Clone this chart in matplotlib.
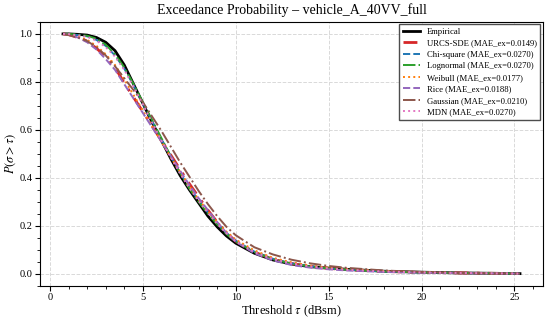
import numpy as np
import matplotlib.pyplot as plt
from matplotlib.ticker import MultipleLocator

plt.rcParams['font.family'] = ['Liberation Serif', 'DejaVu Serif']
plt.rcParams['mathtext.fontset'] = 'stix'

# threshold grid (dBsm)
tau = [0.7, 1, 1.5, 2, 2.5, 3, 3.5, 4, 4.5, 5, 5.5, 6, 6.5, 7, 7.5, 8, 8.5, 9, 9.5, 10,
       11, 12, 13, 14, 15, 16, 18, 20, 22, 25.3]

empirical = [1.0, 1.0, 0.998, 0.995, 0.985, 0.965, 0.93, 0.87, 0.79, 0.71, 0.63, 0.555, 0.48, 0.41,
             0.35, 0.295, 0.24, 0.195, 0.157, 0.127, 0.085, 0.057, 0.04, 0.029, 0.023, 0.018,
             0.01, 0.006, 0.003, 0.0]
urcs = [1.0, 0.997, 0.985, 0.97, 0.94, 0.905, 0.86, 0.795, 0.735, 0.675, 0.615, 0.555, 0.495, 0.435,
        0.375, 0.32, 0.265, 0.215, 0.17, 0.135, 0.09, 0.06, 0.042, 0.03, 0.022, 0.016,
        0.009, 0.005, 0.003, 0.0]
chisq = [1.0, 0.999, 0.995, 0.99, 0.975, 0.95, 0.91, 0.855, 0.785, 0.71, 0.635, 0.56, 0.49, 0.42,
         0.36, 0.305, 0.255, 0.21, 0.17, 0.137, 0.092, 0.062, 0.043, 0.03, 0.022, 0.016,
         0.009, 0.005, 0.003, 0.0]
lognorm = [1.0, 1.0, 0.997, 0.992, 0.98, 0.955, 0.915, 0.86, 0.79, 0.715, 0.64, 0.565, 0.49, 0.42,
           0.355, 0.30, 0.25, 0.205, 0.165, 0.133, 0.09, 0.06, 0.042, 0.03, 0.022, 0.016,
           0.009, 0.005, 0.003, 0.0]
weibull = [1.0, 0.997, 0.99, 0.975, 0.95, 0.915, 0.87, 0.81, 0.745, 0.68, 0.615, 0.55, 0.485, 0.425,
           0.365, 0.31, 0.26, 0.215, 0.175, 0.142, 0.097, 0.066, 0.047, 0.034, 0.025, 0.019,
           0.011, 0.006, 0.003, 0.0]
rice = [1.0, 0.996, 0.985, 0.965, 0.935, 0.895, 0.85, 0.79, 0.73, 0.67, 0.61, 0.55, 0.49, 0.43,
        0.37, 0.315, 0.265, 0.215, 0.17, 0.133, 0.085, 0.055, 0.036, 0.025, 0.018, 0.013,
        0.007, 0.004, 0.002, 0.0]
gauss = [1.0, 0.995, 0.985, 0.97, 0.945, 0.91, 0.865, 0.815, 0.765, 0.715, 0.655, 0.595, 0.53, 0.465,
         0.405, 0.345, 0.29, 0.24, 0.195, 0.16, 0.11, 0.08, 0.058, 0.043, 0.032, 0.024,
         0.013, 0.007, 0.003, 0.0]
mdn = [1.0, 0.999, 0.994, 0.988, 0.972, 0.945, 0.905, 0.85, 0.78, 0.705, 0.63, 0.555, 0.485, 0.418,
       0.357, 0.303, 0.253, 0.208, 0.168, 0.135, 0.09, 0.061, 0.043, 0.03, 0.022, 0.016,
       0.009, 0.005, 0.003, 0.0]

fig, ax = plt.subplots(figsize=(5.5, 3.22), dpi=100)
fig.subplots_adjust(left=0.073, right=0.987, bottom=0.113, top=0.932)

ax.plot(tau, empirical, color='black', lw=2.0, label='Empirical')
ax.plot(tau, urcs, color='#d62728', lw=2.0, ls=(0, (5, 3, 1, 3)), label='URCS-SDE (MAE_ex=0.0149)')
ax.plot(tau, chisq, color='#1f77b4', lw=1.4, ls='--', label='Chi-square (MAE_ex=0.0270)')
ax.plot(tau, lognorm, color='#2ca02c', lw=1.4, ls='-.', label='Lognormal (MAE_ex=0.0270)')
ax.plot(tau, weibull, color='#ff7f0e', lw=1.4, ls=':', label='Weibull (MAE_ex=0.0177)')
ax.plot(tau, rice, color='#9467bd', lw=1.4, ls='--', label='Rice (MAE_ex=0.0188)')
ax.plot(tau, gauss, color='#8c564b', lw=1.4, ls='-.', label='Gaussian (MAE_ex=0.0210)')
ax.plot(tau, mdn, color='#e377c2', lw=1.4, ls=':', label='MDN (MAE_ex=0.0270)')

ax.set_title('Exceedance Probability \u2013 vehicle_A_40VV_full', fontsize=10)
ax.set_xlabel(r'Threshold $\tau$ (dBsm)', fontsize=9, labelpad=1)
ax.set_ylabel(r'$P(\sigma > \tau)$', fontsize=9, labelpad=1)

ax.xaxis.set_minor_locator(MultipleLocator(1))
ax.yaxis.set_minor_locator(MultipleLocator(0.05))
ax.tick_params(labelsize=7.5, pad=2)
ax.tick_params(which='major', length=3.5)
ax.tick_params(which='minor', length=2)
ax.grid(True, which='major', ls='--', color='0.85', lw=0.7)

ax.legend(loc='upper right', fontsize=6.2, frameon=True, framealpha=1, edgecolor='0.3',
          fancybox=False, borderaxespad=0.3, labelspacing=0.4, handlelength=2.0)

plt.savefig('out.png', dpi=100)
